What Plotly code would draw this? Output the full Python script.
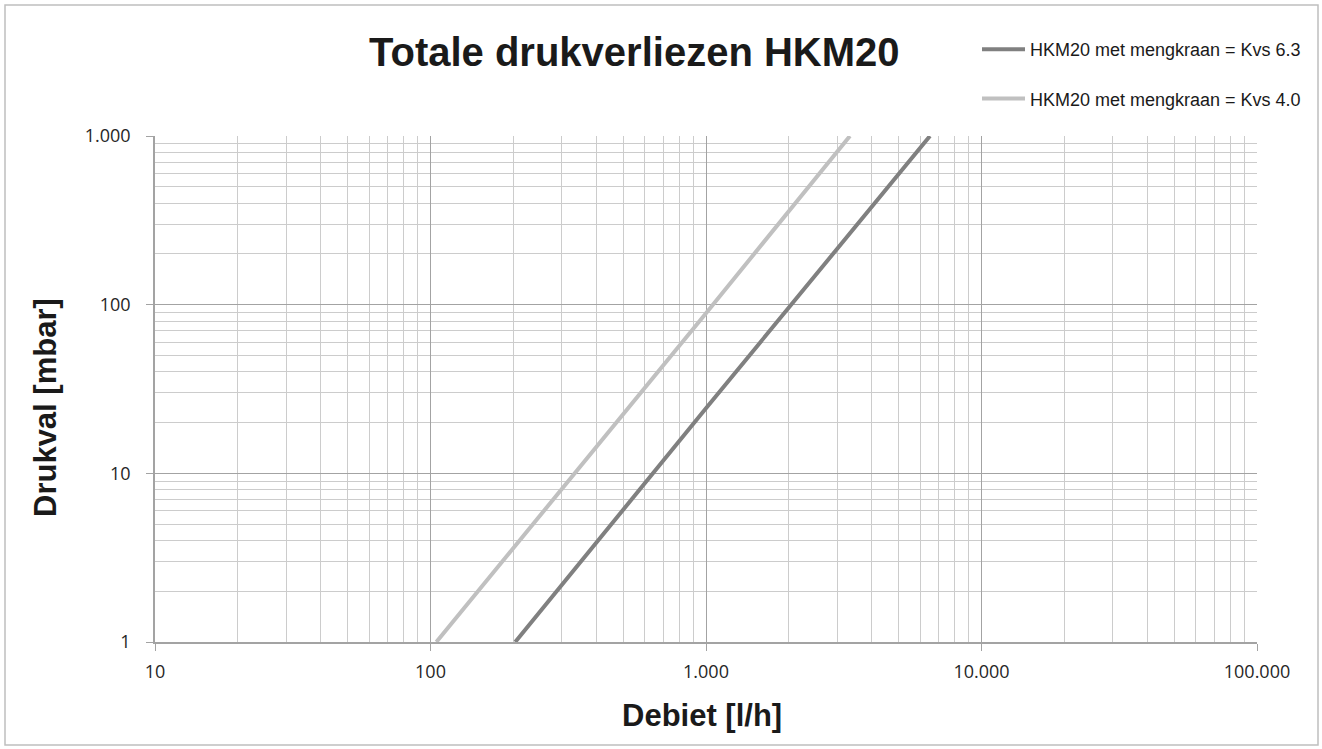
import plotly.graph_objects as go

# Data (flow in l/h, pressure drop in mbar)
flow_kvs63 = [203, 1000, 6500]
drop_kvs63 = [1, 24.3, 1000]
flow_kvs40 = [105, 1000, 3330]
drop_kvs40 = [1, 89, 1000]

name_kvs63 = "HKM20 met mengkraan = Kvs 6.3"
name_kvs40 = "HKM20 met mengkraan = Kvs 4.0"

x_tickvals = [10, 100, 1000, 10000, 100000]
x_ticktext = ["10", "100", "1.000", "10.000", "100.000"]
y_tickvals = [1, 10, 100, 1000]
y_ticktext = ["1", "10", "100", "1.000"]

title_text = "Totale drukverliezen HKM20"
x_title = "Debiet [l/h]"
y_title = "Drukval [mbar]"

W, H = 1322, 749
L, R, T, B = 155, 65, 136, 107

fig = go.Figure()
fig.add_trace(go.Scatter(x=flow_kvs63, y=drop_kvs63, mode="lines", name=name_kvs63,
                         line=dict(color="#808080", width=4), legendgroup="a"))
fig.add_trace(go.Scatter(x=flow_kvs40, y=drop_kvs40, mode="lines", name=name_kvs40,
                         line=dict(color="#c0c0c0", width=4), legendgroup="b"))

grid_major = "#a3a3a3"
grid_minor = "#cccccc"
tick_font = dict(family="Open Sans, Liberation Sans, Arial", size=18, color="#262626")

fig.update_xaxes(type="log", range=[1, 5], tickvals=x_tickvals, ticktext=x_ticktext,
                 showgrid=True, gridcolor=grid_major, gridwidth=1,
                 minor=dict(showgrid=True, gridcolor=grid_minor, gridwidth=1, dtick="D1", ticks=""),
                 showline=True, linecolor=grid_major, linewidth=1.5,
                 ticks="outside", ticklen=7, tickcolor=grid_major, tickwidth=1,
                 tickfont=tick_font, ticklabelstandoff=6, zeroline=False, mirror=False)
fig.update_yaxes(type="log", range=[0, 3], tickvals=y_tickvals, ticktext=y_ticktext,
                 showgrid=True, gridcolor=grid_major, gridwidth=1,
                 minor=dict(showgrid=True, gridcolor=grid_minor, gridwidth=1, dtick="D1", ticks=""),
                 showline=True, linecolor=grid_major, linewidth=1.5,
                 ticks="outside", ticklen=7, tickcolor=grid_major, tickwidth=1,
                 tickfont=tick_font, ticklabelstandoff=12, zeroline=False)

pw = W - L - R
ph = H - T - B

def px_x(px):
    return (px - L) / pw

def px_y(py):
    return (H - B - py) / ph

fig.add_shape(type="rect", xref="paper", yref="paper",
              x0=px_x(5), x1=px_x(1318), y0=px_y(745), y1=px_y(5),
              line=dict(color="#bfbfbf", width=1.5), fillcolor="rgba(0,0,0,0)", layer="below")

fig.add_annotation(text=title_text, xref="paper", yref="paper", x=px_x(634), y=px_y(52),
                   showarrow=False, xanchor="center", yanchor="middle",
                   font=dict(family="Liberation Sans, Arial", size=40, color="#1a1a1a", weight="bold"))
fig.add_annotation(text=x_title, xref="paper", yref="paper", x=px_x(702), y=px_y(715),
                   showarrow=False, xanchor="center", yanchor="middle",
                   font=dict(family="Liberation Sans, Arial", size=31, color="#1a1a1a", weight="bold"))
fig.add_annotation(text=y_title, xref="paper", yref="paper", x=px_x(45), y=px_y(408),
                   showarrow=False, xanchor="center", yanchor="middle", textangle=-90,
                   font=dict(family="Liberation Sans, Arial", size=31, color="#1a1a1a", weight="bold"))

fig.update_layout(
    width=W, height=H,
    margin=dict(l=L, r=R, t=T, b=B, pad=0),
    paper_bgcolor="white", plot_bgcolor="white",
    showlegend=True,
    legend=dict(x=px_x(977), y=px_y(31), xanchor="left", yanchor="top",
                font=dict(family="Liberation Sans, Arial", size=18, color="#1a1a1a"),
                bgcolor="rgba(0,0,0,0)", tracegroupgap=23, itemwidth=43,
                traceorder="grouped"),
)

fig.write_html("out.html", config={"displayModeBar": False},
               post_script="document.body.style.margin='0px';")
